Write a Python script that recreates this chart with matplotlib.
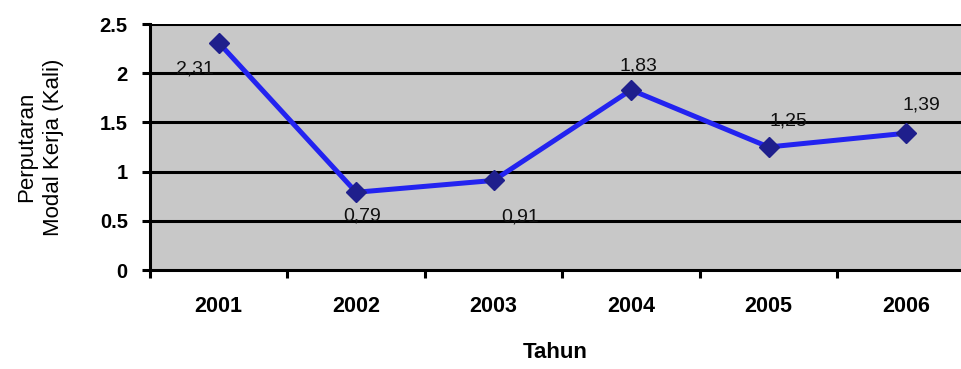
import matplotlib
matplotlib.use('Agg')
import matplotlib.pyplot as plt
import numpy as np

plt.rcParams['font.family'] = ['Liberation Sans', 'DejaVu Sans']

# Perputaran modal kerja per tahun
tahun = ['2001', '2002', '2003', '2004', '2005', '2006']
perputaran = [2.31, 0.79, 0.91, 1.83, 1.25, 1.39]
# geser label nilai (titik) agar tidak menabrak garis
label_offset = [(-17, -19), (4, -17), (19, -26), (5, 17), (14, 19), (11, 20)]

fig = plt.figure(figsize=(9.61, 3.69), dpi=100)
ax = fig.add_axes([150 / 961, 1 - 270 / 369, 1 - 150 / 961, 246 / 369])

x = np.arange(len(tahun))
ax.set_facecolor('#c8c8c8')
for yv in [0.5, 1, 1.5, 2, 2.5]:
    ax.axhline(yv, color='black', linewidth=2.2, zorder=1)

ax.plot(x, perputaran, color='#2323f0', linewidth=3.6, zorder=3,
        marker='D', markersize=10, markerfacecolor='#1f1f8c',
        markeredgecolor='#1f1f8c')

for xi, v, (dx, dy) in zip(x, perputaran, label_offset):
    ax.annotate(f"{v:.2f}".replace('.', ','), (xi, v), xytext=(dx, dy),
                textcoords='offset points', ha='center', va='center',
                fontsize=14, color='#111111', zorder=4)

ax.set_yticks([0, 0.5, 1, 1.5, 2, 2.5])
ax.set_yticklabels(['0', '0.5', '1', '1.5', '2', '2.5'], fontsize=14.5, fontweight='bold')
ax.set_xticks(x)
ax.set_xticklabels(tahun, fontsize=15.5, fontweight='bold')
ax.tick_params(axis='x', which='major', length=0, pad=19)
ax.set_xticks(np.arange(-0.5, 6, 1), minor=True)
ax.tick_params(axis='x', which='minor', length=6, width=2.2, direction='out')
ax.tick_params(axis='y', length=6, width=2.2, direction='out', pad=10)
# batas sumbu setelah tick, kolom terakhir terpotong di tepi kanan
ax.set_xlim(-0.5, 5.40)
ax.set_ylim(0, 2.5)

for side in ['top', 'right']:
    ax.spines[side].set_visible(False)
for side in ['left', 'bottom']:
    ax.spines[side].set_linewidth(2.2)

ax.set_xlabel('Tahun', fontsize=16, fontweight='bold', labelpad=18)
ax.set_ylabel('Perputaran\nModal Kerja (Kali)', fontsize=16, labelpad=26,
              linespacing=1.35)

fig.savefig('out.png', dpi=100)
